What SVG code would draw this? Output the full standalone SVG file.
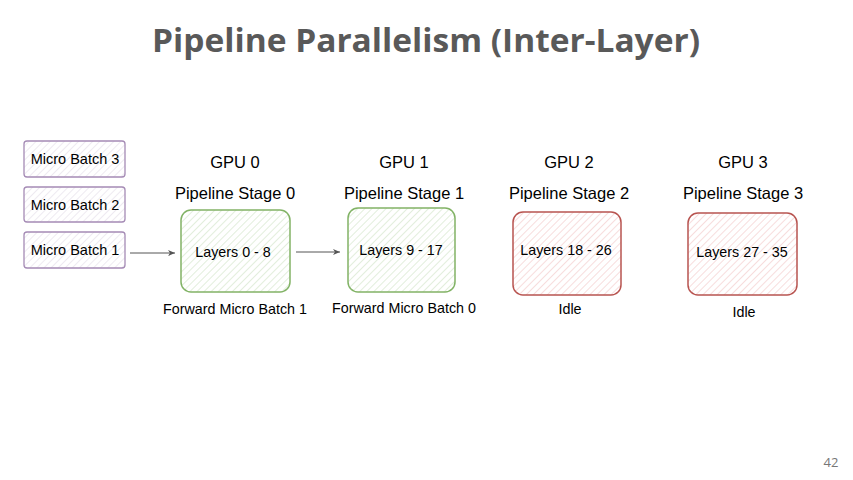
<svg xmlns="http://www.w3.org/2000/svg" width="853" height="480" viewBox="0 0 853 480">
<defs>
<pattern id="hp" width="5" height="5" patternUnits="userSpaceOnUse" patternTransform="rotate(45)"><line x1="0" y1="0" x2="0" y2="5" stroke="#ddd6e3" stroke-width="1"/></pattern>
<pattern id="hg" width="5" height="5" patternUnits="userSpaceOnUse" patternTransform="rotate(45)"><line x1="0" y1="0" x2="0" y2="5" stroke="#cfe3c4" stroke-width="1.2"/></pattern>
<pattern id="hr" width="5" height="5" patternUnits="userSpaceOnUse" patternTransform="rotate(45)"><line x1="0" y1="0" x2="0" y2="5" stroke="#f1c6c6" stroke-width="1.2"/></pattern>
<marker id="ah" markerWidth="8" markerHeight="8" refX="7" refY="4" orient="auto" markerUnits="userSpaceOnUse"><path d="M0,1 L7,4 L0,7 L2,4 Z" fill="#555"/></marker>
</defs>
<style>
.t{font-family:"Liberation Sans",Arial,sans-serif;fill:#000;text-anchor:middle}
.mb{fill:url(#hp);stroke:#a58bb5;stroke-width:1.3}
.g{fill:url(#hg);stroke:#82b366;stroke-width:1.5}
.r{fill:url(#hr);stroke:#b85450;stroke-width:1.5}
.c{stroke:#555;stroke-width:1;fill:none;marker-end:url(#ah)}
</style>
<rect width="853" height="480" fill="#fff"/>
<text x="426" y="52" font-family="'Open Sans','DejaVu Sans',sans-serif" font-weight="bold" font-size="32" fill="#595959" text-anchor="middle" textLength="548" lengthAdjust="spacingAndGlyphs">Pipeline Parallelism (Inter-Layer)</text>

<g id="mb3"><rect class="mb" x="24" y="141" width="101" height="36" rx="3"/><text class="t" x="75" y="164" font-size="14.5">Micro Batch 3</text></g>
<g id="mb2"><rect class="mb" x="24" y="187" width="101" height="35" rx="3"/><text class="t" x="75" y="210" font-size="14.5">Micro Batch 2</text></g>
<g id="mb1"><rect class="mb" x="24" y="232" width="101" height="36" rx="3"/><text class="t" x="75" y="255" font-size="14.5">Micro Batch 1</text></g>

<g id="gpu0">
<text class="t" x="235" y="168" font-size="16.5">GPU 0</text>
<text class="t" x="235" y="199" font-size="16.5">Pipeline Stage 0</text>
<rect class="g" x="181" y="210" width="109" height="82" rx="10"/>
<text class="t" x="233" y="257" font-size="14.3">Layers 0 - 8</text>
<text class="t" x="235" y="314" font-size="14.3">Forward Micro Batch 1</text>
</g>
<g id="gpu1">
<text class="t" x="404" y="168" font-size="16.5">GPU 1</text>
<text class="t" x="404" y="199" font-size="16.5">Pipeline Stage 1</text>
<rect class="g" x="348" y="208" width="107" height="84" rx="10"/>
<text class="t" x="401" y="255" font-size="14.3">Layers 9 - 17</text>
<text class="t" x="404" y="313" font-size="14.3">Forward Micro Batch 0</text>
</g>
<g id="gpu2">
<text class="t" x="569" y="168" font-size="16.5">GPU 2</text>
<text class="t" x="569" y="199" font-size="16.5">Pipeline Stage 2</text>
<rect class="r" x="513" y="212" width="108" height="83" rx="10"/>
<text class="t" x="566" y="255" font-size="14.3">Layers 18 - 26</text>
<text class="t" x="570" y="314" font-size="14.3">Idle</text>
</g>
<g id="gpu3">
<text class="t" x="743" y="168" font-size="16.5">GPU 3</text>
<text class="t" x="743" y="199" font-size="16.5">Pipeline Stage 3</text>
<rect class="r" x="688" y="213" width="109" height="82" rx="10"/>
<text class="t" x="742" y="257" font-size="14.3">Layers 27 - 35</text>
<text class="t" x="744" y="317" font-size="14.3">Idle</text>
</g>

<g id="connectors">
<line class="c" x1="130" y1="253" x2="175" y2="253"/>
<line class="c" x1="296" y1="252" x2="340" y2="252"/>
</g>

<text x="831" y="467" font-family="'Open Sans','DejaVu Sans',sans-serif" font-size="13" fill="#777" text-anchor="middle">42</text>
</svg>
